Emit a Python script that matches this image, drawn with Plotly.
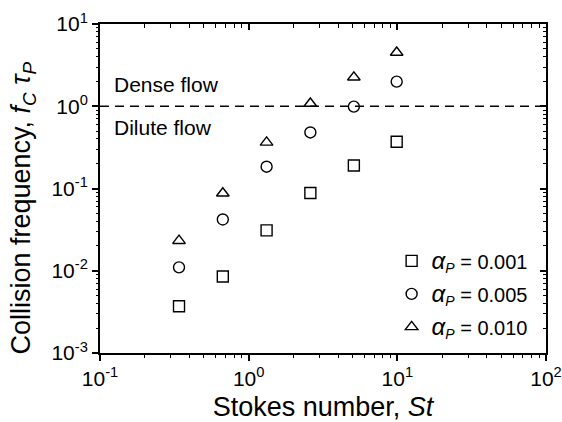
import plotly.graph_objects as go

# Stokes number for each simulated case
stokes = [0.34, 0.67, 1.32, 2.6, 5.1, 9.9]

# Normalised collision frequency f_C * tau_P per particle volume fraction
fc_001 = [0.0037, 0.0085, 0.031, 0.088, 0.19, 0.37]
fc_005 = [0.011, 0.042, 0.184, 0.48, 0.99, 1.99]
fc_010 = [0.0232, 0.0875, 0.364, 1.08, 2.25, 4.5]

ALPHA = "<i><span style='font-size:24px'>α</span><sub>P</sub></i>"
series = [
    (ALPHA + " = 0.001", fc_001, "square-open"),
    (ALPHA + " = 0.005", fc_005, "circle-open"),
    (ALPHA + " = 0.010", fc_010, "triangle-up-open"),
]

# Regime boundary between dilute and dense flow
regime_boundary = 1.0

x_decades = [-1, 0, 1, 2]
y_decades = [-3, -2, -1, 0, 1]

FONT = "Liberation Sans, Arial, sans-serif"
X_RANGE = [-1, 2]
Y_RANGE = [-3, 1]


def majors(decades):
    return [10.0 ** d for d in decades]


def minors(decades):
    return [m * 10.0 ** d for d in decades[:-1] for m in range(2, 10)]


def exp_labels(decades):
    return ["10<sup>%d</sup>" % d for d in decades]


fig = go.Figure()
for i, (name, vals, sym) in enumerate(series):
    fig.add_trace(go.Scatter(
        x=stokes, y=vals, mode="markers", name=name, legendgroup=str(i),
        marker=dict(symbol=sym, size=11, color="black",
                    line=dict(color="black", width=1.4)),
    ))

# empty traces so the tick-only overlay subplots get drawn
for k in (2, 3, 4):
    fig.add_trace(go.Scatter(x=[], y=[], xaxis="x%d" % k, yaxis="y%d" % k,
                             showlegend=False, hoverinfo="skip"))

fig.add_shape(type="line", xref="paper", yref="y", x0=0, x1=1,
              y0=regime_boundary, y1=regime_boundary,
              line=dict(color="black", width=1.4, dash="9px,6px"))

fig.add_annotation(text="Dense flow", xref="paper", yref="paper",
                   x=0.028, y=0.815, xanchor="left", yanchor="middle",
                   showarrow=False, font=dict(size=21, color="black", family=FONT))
fig.add_annotation(text="Dilute flow", xref="paper", yref="paper",
                   x=0.028, y=0.684, xanchor="left", yanchor="middle",
                   showarrow=False, font=dict(size=21, color="black", family=FONT))

# y-axis title, placed as a rotated annotation left of the tick labels
fig.add_annotation(text="Collision frequency, <i>f<sub>C</sub></i> <i>τ<sub>P</sub></i>",
                   xref="paper", yref="paper", x=-0.172, y=0.44,
                   xanchor="center", yanchor="middle", textangle=-90,
                   showarrow=False, font=dict(size=27, color="black", family=FONT))

base = dict(type="log", showgrid=False, zeroline=False, automargin=False,
            tickcolor="black", tickmode="array")
TICKFONT = dict(size=21, family=FONT, color="black")
MAJ, MIN = 6, 3.5

fig.update_layout(
    width=562, height=422,
    margin=dict(l=100, r=16, t=24, b=69),
    paper_bgcolor="white", plot_bgcolor="white",
    font=dict(family=FONT, color="black", size=20),
    showlegend=True,
    legend=dict(x=0.97, y=0.02, xanchor="right", yanchor="bottom",
                bgcolor="rgba(0,0,0,0)", font=dict(size=20, family=FONT),
                itemwidth=30, traceorder="grouped", tracegroupgap=4),
    # bottom / left: major ticks outside with labels, frame line mirrored
    xaxis=dict(**base, range=X_RANGE, tickvals=majors(x_decades),
               ticktext=exp_labels(x_decades), tickfont=TICKFONT,
               ticklabeloverflow="allow",
               showline=True, linecolor="black", linewidth=2, mirror=True,
               ticks="outside", ticklen=MAJ, tickwidth=1.6,
               title=dict(text="Stokes number, <i>St</i>",
                          font=dict(size=27, family=FONT), standoff=10)),
    yaxis=dict(**base, range=Y_RANGE, tickvals=majors(y_decades),
               ticktext=exp_labels(y_decades), tickfont=TICKFONT,
               ticklabeloverflow="allow",
               showline=True, linecolor="black", linewidth=2, mirror=True,
               ticks="outside", ticklen=MAJ, tickwidth=1.6),
    # top / right: major ticks inside
    xaxis2=dict(**base, range=X_RANGE, overlaying="x", side="top", anchor="y2",
                tickvals=majors(x_decades), showticklabels=False,
                ticks="inside", ticklen=MAJ, tickwidth=1.6),
    yaxis2=dict(**base, range=Y_RANGE, overlaying="y", side="right", anchor="x2",
                tickvals=majors(y_decades), showticklabels=False,
                ticks="inside", ticklen=MAJ, tickwidth=1.6),
    # bottom / left: minor ticks outside
    xaxis3=dict(**base, range=X_RANGE, overlaying="x", side="bottom", anchor="y3",
                tickvals=minors(x_decades), showticklabels=False,
                ticks="outside", ticklen=MIN, tickwidth=1.3),
    yaxis3=dict(**base, range=Y_RANGE, overlaying="y", side="left", anchor="x3",
                tickvals=minors(y_decades), showticklabels=False,
                ticks="outside", ticklen=MIN, tickwidth=1.3),
    # top / right: minor ticks inside
    xaxis4=dict(**base, range=X_RANGE, overlaying="x", side="top", anchor="y4",
                tickvals=minors(x_decades), showticklabels=False,
                ticks="inside", ticklen=MIN, tickwidth=1.3),
    yaxis4=dict(**base, range=Y_RANGE, overlaying="y", side="right", anchor="x4",
                tickvals=minors(y_decades), showticklabels=False,
                ticks="inside", ticklen=MIN, tickwidth=1.3),
)

fig.write_html("out.html")
